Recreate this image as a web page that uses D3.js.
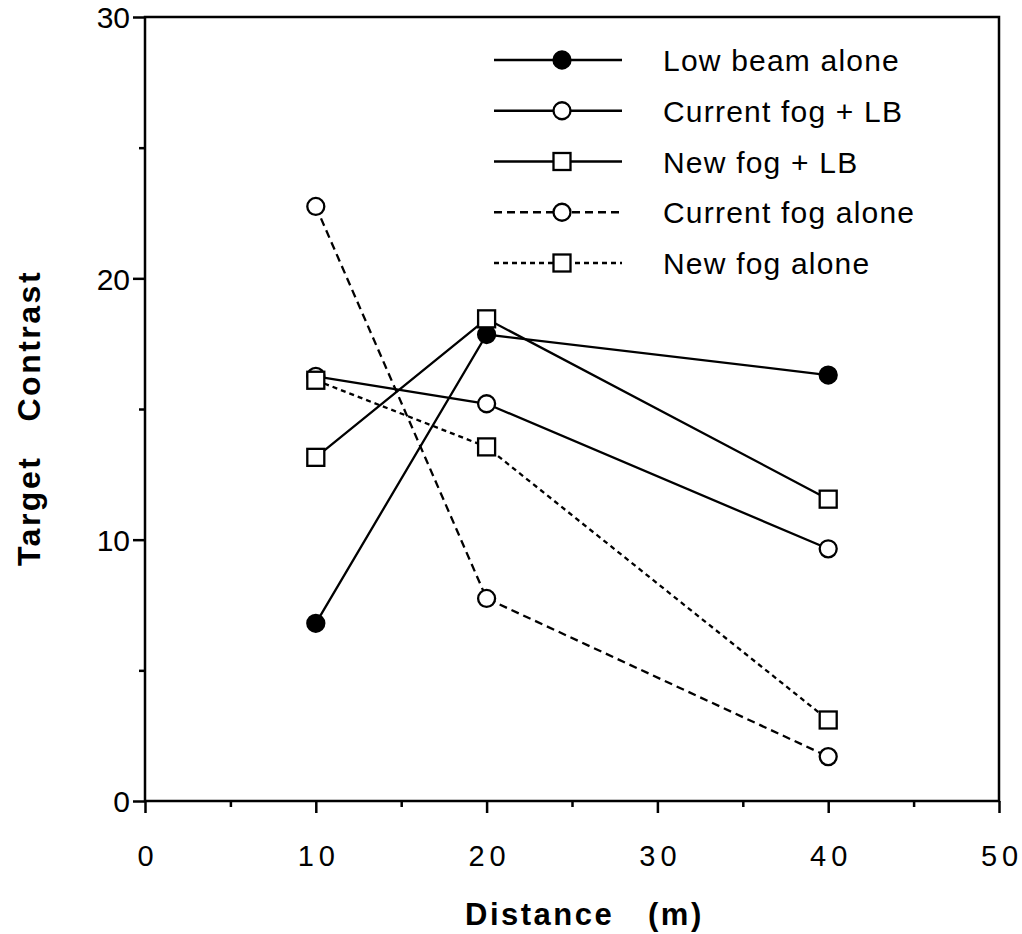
<!DOCTYPE html>
<html>
<head>
<meta charset="utf-8">
<script src="https://cdn.jsdelivr.net/npm/d3@7"></script>
<style>
  body { margin: 0; background: #fff; }
  text { font-family: "Liberation Sans", Arial, Helvetica, sans-serif; fill: #000; }
</style>
</head>
<body>
<div id="chart"></div>
<script>
var distances = [10, 20, 40];
var lowBeamAlone = [6.8, 17.85, 16.3];
var currentFogLB = [16.25, 15.2, 9.65];
var newFogLB = [13.15, 18.45, 11.55];
var currentFogAlone = [22.75, 7.75, 1.7];
var newFogAlone = [16.1, 13.55, 3.1];
var seriesNames = ['Low beam alone', 'Current fog + LB', 'New fog + LB', 'Current fog alone', 'New fog alone'];
var xTicks = [0, 10, 20, 30, 40, 50];
var yTicks = [0, 10, 20, 30];

var W = 1022, H = 934;
var plotLeft = 145, plotRight = 999, plotTop = 17, plotBottom = 801;

var x = d3.scaleLinear().domain([0, 50]).range([plotLeft, plotRight]);
var y = d3.scaleLinear().domain([0, 30]).range([plotBottom, plotTop]);

var svg = d3.select('#chart').append('svg')
  .attr('width', W)
  .attr('height', H);

// style for each series: marker type, fill, dash
var styles = [
  { marker: 'circle', fill: '#000', dash: null },
  { marker: 'circle', fill: '#fff', dash: null },
  { marker: 'square', fill: '#fff', dash: null },
  { marker: 'circle', fill: '#fff', dash: '8,5' },
  { marker: 'square', fill: '#fff', dash: '5,4' }
];
var seriesValues = [lowBeamAlone, currentFogLB, newFogLB, currentFogAlone, newFogAlone];

// frame
svg.append('rect')
  .attr('x', plotLeft).attr('y', plotTop)
  .attr('width', plotRight - plotLeft).attr('height', plotBottom - plotTop)
  .attr('fill', 'none').attr('stroke', '#000').attr('stroke-width', 2.5);

// x ticks
svg.append('g')
  .attr('transform', 'translate(0,' + plotBottom + ')')
  .call(d3.axisBottom(x).tickValues(xTicks).tickSize(12).tickFormat(d3.format('d')))
  .call(function(g) {
    g.select('.domain').remove();
    g.selectAll('line').attr('stroke-width', 2.5);
    g.selectAll('text')
      .attr('y', 44)
      .attr('dx', '2.5px')
      .style('font-size', '29px')
      .style('letter-spacing', '5px');
  });
svg.append('g')
  .attr('transform', 'translate(0,' + plotBottom + ')')
  .call(d3.axisBottom(x).tickValues(d3.range(5, 50, 10)).tickSize(6).tickFormat(''))
  .call(function(g) {
    g.select('.domain').remove();
    g.selectAll('line').attr('stroke-width', 2.5);
  });

// y ticks
svg.append('g')
  .attr('transform', 'translate(' + plotLeft + ',0)')
  .call(d3.axisLeft(y).tickValues(yTicks).tickSize(12).tickFormat(d3.format('d')))
  .call(function(g) {
    g.select('.domain').remove();
    g.selectAll('line').attr('stroke-width', 2.5);
    g.selectAll('text')
      .attr('x', -15)
      .attr('dy', '0.36em')
      .style('font-size', '30px');
  });
svg.append('g')
  .attr('transform', 'translate(' + plotLeft + ',0)')
  .call(d3.axisLeft(y).tickValues([5, 15, 25]).tickSize(6).tickFormat(''))
  .call(function(g) {
    g.select('.domain').remove();
    g.selectAll('line').attr('stroke-width', 2.5);
  });

// axis titles
svg.append('text')
  .attr('x', 465)
  .attr('y', 925)
  .style('font-size', '31px')
  .style('font-weight', 'bold')
  .style('letter-spacing', '2.5px')
  .text('Distance');
svg.append('text')
  .attr('x', 648)
  .attr('y', 925)
  .style('font-size', '31px')
  .style('font-weight', 'bold')
  .style('letter-spacing', '2.5px')
  .text('(m)');

svg.append('text')
  .attr('transform', 'translate(40,418) rotate(-90)')
  .attr('text-anchor', 'middle')
  .style('font-size', '32px')
  .style('font-weight', 'bold')
  .style('letter-spacing', '2.5px')
  .style('white-space', 'pre')
  .text('Target   Contrast');

function drawMarker(g, type, cx, cy, fill) {
  if (type === 'circle') {
    g.append('circle')
      .attr('cx', cx).attr('cy', cy).attr('r', 8.5)
      .attr('fill', fill).attr('stroke', '#000').attr('stroke-width', 2.3);
  } else {
    g.append('rect')
      .attr('x', cx - 8.5).attr('y', cy - 8.5)
      .attr('width', 17).attr('height', 17)
      .attr('fill', fill).attr('stroke', '#000').attr('stroke-width', 2.3);
  }
}

var line = d3.line()
  .x(function(d, i) { return x(distances[i]); })
  .y(function(d) { return y(d); });

// series lines, then markers
seriesValues.forEach(function(vals, s) {
  svg.append('path')
    .attr('d', line(vals))
    .attr('fill', 'none')
    .attr('stroke', '#000')
    .attr('stroke-width', 2.3)
    .attr('stroke-dasharray', styles[s].dash);
});
seriesValues.forEach(function(vals, s) {
  var g = svg.append('g');
  vals.forEach(function(v, i) {
    drawMarker(g, styles[s].marker, x(distances[i]), y(v), styles[s].fill);
  });
});

// legend
var legendY = d3.scalePoint().domain(seriesNames).range([60, 263]);
seriesNames.forEach(function(name, s) {
  var ly = legendY(name);
  var g = svg.append('g');
  g.append('line')
    .attr('x1', 494).attr('x2', 622)
    .attr('y1', ly).attr('y2', ly)
    .attr('stroke', '#000').attr('stroke-width', 2.3)
    .attr('stroke-dasharray', styles[s].dash);
  drawMarker(g, styles[s].marker, 562, ly, styles[s].fill);
  g.append('text')
    .attr('x', 663)
    .attr('y', ly + 11)
    .style('font-size', '30px')
    .style('letter-spacing', '1.2px')
    .text(name);
});
</script>
</body>
</html>
